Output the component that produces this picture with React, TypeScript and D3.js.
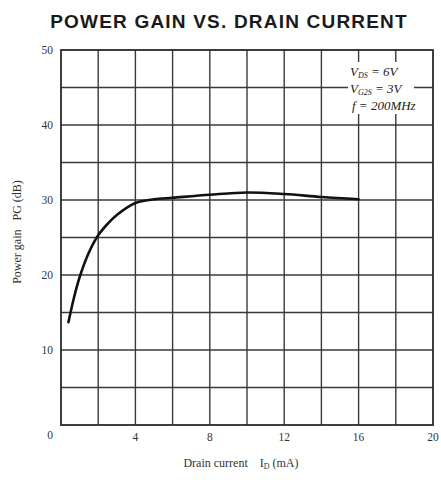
import React from "react";
import * as d3 from "d3";

const currentMA = [0.4, 0.7, 1, 1.5, 2, 2.5, 3, 4, 5, 6, 8, 10, 12, 14, 16];
const gainDB = [13.7, 17, 19.7, 23, 25.3, 26.8, 28, 29.6, 30.1, 30.3, 30.7, 31.0, 30.8, 30.4, 30.1];
const xTicks = [0, 4, 8, 12, 16, 20];
const yTicks = [0, 10, 20, 30, 40, 50];
const xGrid = [2, 4, 6, 8, 10, 12, 14, 16, 18];
const yGrid = [5, 10, 15, 20, 25, 30, 35, 40, 45];

export default function App() {
  const W = 441, H = 484;
  const left = 61, right = 433, top = 50, bottom = 425;
  const x = d3.scaleLinear().domain([0, 20]).range([left, right]);
  const y = d3.scaleLinear().domain([0, 50]).range([bottom, top]);
  const pts = currentMA.map((c, i) => [c, gainDB[i]] as [number, number]);
  const line = d3.line<[number, number]>().x(d => x(d[0])).y(d => y(d[1])).curve(d3.curveCatmullRom.alpha(0.5));
  const serif = "'Liberation Serif', 'DejaVu Serif', serif";
  const nb = "\u00A0";
  return (
    <svg width={W} height={H} style={{ position: "absolute", left: 0, top: 0, background: "#fff" }}>
      <text x={229} y={28} textAnchor="middle" fontFamily="'Liberation Sans', Arial, sans-serif" fontWeight="bold" fontSize={19} letterSpacing={1.2} fill="#1a1a1a">POWER GAIN VS. DRAIN CURRENT</text>
      {xGrid.map(v => (
        <line key={"gx" + v} x1={x(v)} x2={x(v)} y1={top} y2={bottom} stroke="#3a3a3a" strokeWidth={1.4} />
      ))}
      {yGrid.map(v => (
        <line key={"gy" + v} x1={left} x2={right} y1={y(v)} y2={y(v)} stroke="#3a3a3a" strokeWidth={1.4} />
      ))}
      <rect x={left} y={top} width={right - left} height={bottom - top} fill="none" stroke="#2a2a2a" strokeWidth={1.8} />
      <rect x={348} y={62} width={66} height={52} fill="#fff" />
      <path d={line(pts) || ""} fill="none" stroke="#111" strokeWidth={2.6} strokeLinecap="round" />
      {yTicks.map(v => (
        <text key={"yt" + v} x={53} y={v === 0 ? y(v) + 14 : y(v) + 4} textAnchor="end" fontFamily={serif} fontSize={11.5} fill="#333">{v}</text>
      ))}
      {xTicks.filter(v => v !== 0).map(v => (
        <text key={"xt" + v} x={x(v)} y={441} textAnchor="middle" fontFamily={serif} fontSize={11.5} fill="#333">{v}</text>
      ))}
      <g fontFamily={serif} fontStyle="italic" fontSize={13} fill="#222">
        <text x={350} y={76}>V<tspan fontSize={8} dy={2}>DS</tspan><tspan dy={-2}> = 6V</tspan></text>
        <text x={350} y={93}>V<tspan fontSize={8} dy={2}>G2S</tspan><tspan dy={-2}> = 3V</tspan></text>
        <text x={352} y={110}>f = 200MHz</text>
      </g>
      <text x={241} y={467} textAnchor="middle" fontFamily={serif} fontSize={12} fill="#333">{"Drain current" + nb + nb + nb + nb + "I"}<tspan fontSize={8} dy={2}>D</tspan><tspan dy={-2}>{nb + "(mA)"}</tspan></text>
      <text transform={`translate(21,232) rotate(-90)`} textAnchor="middle" fontFamily={serif} fontSize={12} fill="#333">{"Power gain" + nb + nb + nb + "PG (dB)"}</text>
    </svg>
  );
}
